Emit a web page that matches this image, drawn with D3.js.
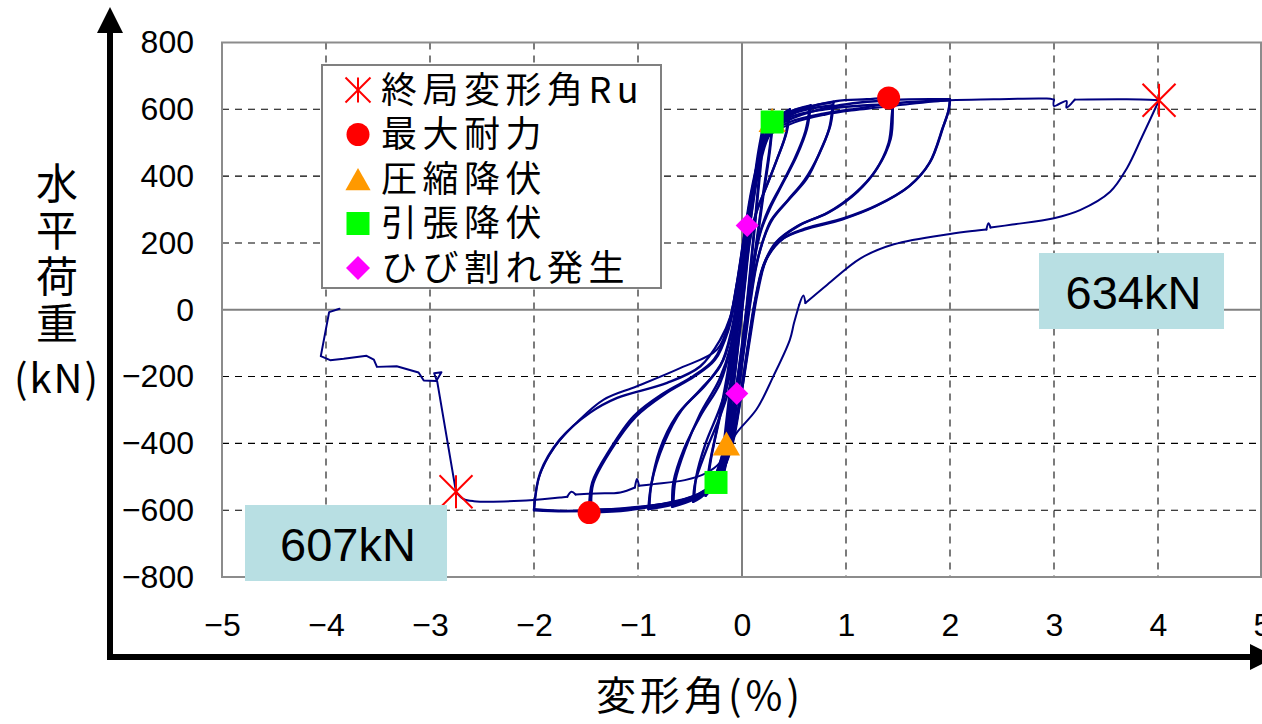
<!DOCTYPE html>
<html>
<head>
<meta charset="utf-8">
<script src="https://cdn.jsdelivr.net/npm/d3@7"></script>
<style>
  html, body { margin: 0; padding: 0; background: #fff; }
  svg { display: block; }
</style>
</head>
<body>
<svg id="chart" width="1262" height="724"></svg>
<script>
// ---- axis ticks ----
const xTicks = [-5, -4, -3, -2, -1, 0, 1, 2, 3, 4, 5];
const yTicks = [-800, -600, -400, -200, 0, 200, 400, 600, 800];

// ---- hysteresis record: drift angle (%) vs. lateral load (kN), one array per loading stage,
//      each stage split into branches at the load reversals ----
const stage1 = [
  [[0, 0], [0.05, 180], [0.1, 340], [0.15, 460], [0.2, 545]],
  [[0.2, 545], [0.17, 420], [0.12, 250], [0.06, 60], [0.0, -120], [-0.06, -280], [-0.12, -400], [-0.17, -480], [-0.21, -530]],
  [[-0.21, -530], [-0.18, -420], [-0.12, -250], [-0.06, -80], [0.0, 90], [0.06, 250], [0.12, 390], [0.17, 480], [0.21, 540]],
  [[0.21, 540], [0.18, 430], [0.13, 270], [0.07, 80], [0.01, -110], [-0.05, -270], [-0.11, -390], [-0.16, -470], [-0.2, -522]]
];
const stage2 = [
  [[-0.2, -522], [-0.16, -400], [-0.1, -240], [-0.04, -60], [0.03, 130], [0.1, 310], [0.17, 450], [0.23, 530], [0.3, 580]],
  [[0.3, 580], [0.27, 480], [0.2, 330], [0.13, 170], [0.06, 0], [-0.02, -170], [-0.1, -320], [-0.18, -440], [-0.26, -520], [-0.35, -557]],
  [[-0.35, -557], [-0.31, -460], [-0.23, -340], [-0.14, -190], [-0.06, -20], [0.02, 150], [0.1, 320], [0.18, 460], [0.24, 530], [0.3, 575]],
  [[0.3, 575], [0.26, 470], [0.19, 320], [0.12, 160], [0.05, -10], [-0.03, -180], [-0.11, -330], [-0.19, -450], [-0.27, -520], [-0.34, -550]]
];
const stage3 = [
  [[-0.34, -550], [-0.3, -450], [-0.21, -318], [-0.14, -220], [-0.07, -60], [0.0, 110], [0.07, 270], [0.14, 410], [0.22, 510], [0.32, 570], [0.46, 600]],
  [[0.46, 600], [0.43, 532], [0.34, 453], [0.24, 373], [0.14, 293], [0.08, 214], [0.03, 80], [-0.03, -90], [-0.09, -250], [-0.16, -400], [-0.26, -500], [-0.37, -555], [-0.47, -575]],
  [[-0.47, -575], [-0.45, -517], [-0.34, -418], [-0.21, -318], [-0.11, -219], [-0.05, -60], [0.01, 100], [0.08, 260], [0.15, 400], [0.23, 500], [0.33, 560], [0.45, 595]],
  [[0.45, 595], [0.42, 525], [0.33, 445], [0.23, 365], [0.13, 285], [0.07, 200], [0.02, 60], [-0.04, -110], [-0.1, -270], [-0.17, -410], [-0.27, -505], [-0.37, -550], [-0.46, -570]]
];
const stage4 = [
  [[-0.46, -570], [-0.44, -500], [-0.35, -400], [-0.22, -300], [-0.12, -200], [-0.06, -50], [0.0, 100], [0.07, 260], [0.14, 400], [0.22, 500], [0.32, 560], [0.45, 592], [0.66, 612]],
  [[0.66, 612], [0.625, 542], [0.53, 463], [0.4, 383], [0.27, 304], [0.18, 234], [0.11, 134], [0.05, 0], [-0.01, -140], [-0.08, -300], [-0.16, -430], [-0.28, -520], [-0.45, -565], [-0.67, -590]],
  [[-0.67, -590], [-0.66, -517], [-0.56, -418], [-0.4, -318], [-0.21, -219], [-0.1, -100], [-0.03, 40], [0.04, 200], [0.11, 350], [0.19, 470], [0.29, 545], [0.44, 585], [0.65, 605]],
  [[0.65, 605], [0.61, 535], [0.51, 455], [0.38, 375], [0.25, 297], [0.17, 228], [0.1, 128], [0.04, -10], [-0.02, -150], [-0.09, -310], [-0.17, -440], [-0.29, -525], [-0.46, -565], [-0.66, -585]]
];
const stage5 = [
  [[-0.66, -585], [-0.64, -510], [-0.55, -420], [-0.4, -310], [-0.22, -210], [-0.11, -110], [-0.04, 30], [0.03, 190], [0.1, 340], [0.18, 460], [0.27, 540], [0.45, 590], [0.7, 612], [0.88, 622]],
  [[0.88, 622], [0.85, 552], [0.75, 473], [0.625, 393], [0.46, 333], [0.3, 274], [0.21, 214], [0.14, 134], [0.08, 20], [0.02, -120], [-0.05, -280], [-0.13, -420], [-0.3, -530], [-0.6, -577], [-0.9, -597]],
  [[-0.9, -597], [-0.88, -537], [-0.79, -418], [-0.63, -318], [-0.4, -239], [-0.21, -169], [-0.1, -60], [-0.03, 80], [0.04, 230], [0.11, 370], [0.19, 475], [0.3, 545], [0.5, 588], [0.87, 612]],
  [[0.87, 612], [0.84, 545], [0.74, 465], [0.6, 388], [0.44, 328], [0.28, 268], [0.2, 205], [0.13, 125], [0.07, 10], [0.01, -130], [-0.06, -290], [-0.14, -425], [-0.31, -532], [-0.6, -575], [-0.89, -592]]
];
const stage6 = [
  [[-0.89, -592], [-0.87, -520], [-0.75, -400], [-0.58, -300], [-0.35, -225], [-0.18, -150], [-0.08, -40], [-0.01, 110], [0.06, 270], [0.13, 400], [0.21, 490], [0.3, 545], [0.5, 590], [0.9, 624], [1.2, 630], [1.41, 634], [1.45, 630]],
  [[1.45, 630], [1.45, 600], [1.43, 512], [1.3, 423], [1.11, 353], [0.85, 294], [0.56, 254], [0.34, 204], [0.21, 134], [0.13, 30], [0.06, -110], [-0.01, -260], [-0.09, -400], [-0.2, -490], [-0.4, -550], [-0.8, -585], [-1.1, -600], [-1.47, -607]],
  [[-1.47, -607], [-1.44, -517], [-1.27, -418], [-1.04, -318], [-0.75, -249], [-0.47, -199], [-0.27, -149], [-0.14, -60], [-0.06, 60], [0.01, 200], [0.08, 340], [0.16, 450], [0.26, 525], [0.45, 575], [0.8, 600], [1.1, 610], [1.45, 615]],
  [[1.45, 615], [1.44, 580], [1.41, 500], [1.28, 415], [1.08, 347], [0.82, 290], [0.53, 250], [0.32, 200], [0.2, 128], [0.12, 20], [0.05, -120], [-0.02, -270], [-0.1, -405], [-0.21, -495], [-0.42, -552], [-0.8, -583], [-1.1, -595], [-1.45, -598]]
];
const stage7 = [
  [[-1.45, -598], [-1.43, -520], [-1.26, -420], [-1.02, -320], [-0.73, -250], [-0.46, -200], [-0.26, -150], [-0.13, -60], [-0.05, 60], [0.02, 200], [0.09, 340], [0.17, 450], [0.26, 530], [0.5, 575], [0.9, 610], [1.45, 628], [2.0, 630]],
  [[2.0, 630], [1.99, 600], [1.94, 552], [1.81, 443], [1.62, 373], [1.3, 313], [0.98, 274], [0.62, 244], [0.4, 214], [0.24, 154], [0.15, 50], [0.08, -80], [0.01, -220], [-0.07, -360], [-0.17, -460], [-0.3, -530], [-0.6, -572], [-0.85, -585], [-1.3, -598], [-1.7, -603], [-2.0, -600]],
  [[-2.0, -600], [-1.94, -488], [-1.75, -388], [-1.46, -308], [-1.2, -264], [-0.72, -219], [-0.4, -169], [-0.21, -90], [-0.11, -20], [-0.04, 90], [0.03, 230], [0.1, 360], [0.18, 465], [0.24, 522], [0.46, 562], [0.78, 587], [1.11, 602], [1.43, 617], [2.0, 627]],
  [[2.0, 627], [1.98, 590], [1.93, 545], [1.8, 438], [1.6, 368], [1.28, 309], [0.96, 270], [0.6, 240], [0.38, 210], [0.23, 150], [0.14, 45], [0.07, -85], [0.0, -225], [-0.08, -365], [-0.18, -465], [-0.32, -535], [-0.6, -575], [-0.9, -590], [-1.3, -600], [-1.7, -602], [-2.0, -597]]
];
const finalStage = [
  [[-2.0, -597], [-1.95, -500], [-1.8, -410], [-1.59, -338], [-1.33, -269], [-1.01, -229], [-0.59, -174], [-0.24, -119], [-0.12, -30], [-0.05, 80], [0.02, 220], [0.09, 350], [0.17, 460], [0.25, 518], [0.5, 560], [0.8, 584], [1.1, 598], [1.5, 612], [2.0, 627], [2.42, 630], [2.93, 632], [3.0, 629]],
  [[3.0, 629], [3.0, 610], [3.12, 625], [3.12, 605], [3.2, 629]],
  [[3.2, 629], [3.7, 630], [4.01, 627]],
  [[4.01, 627], [3.85, 520], [3.7, 423], [3.54, 353], [3.25, 298], [3.0, 274], [2.6, 255], [2.39, 246]],
  [[2.39, 246], [2.37, 259], [2.35, 240]],
  [[2.35, 240], [2.26, 237], [2.0, 227], [1.46, 196], [1.14, 154], [0.82, 75], [0.61, 20]],
  [[0.61, 20], [0.59, 43], [0.55, 15]],
  [[0.55, 15], [0.5, -40], [0.46, -90], [0.3, -200], [0.14, -298], [-0.05, -368], [-0.15, -420], [-0.21, -457], [-0.35, -490], [-0.55, -510], [-0.85, -522], [-0.99, -527]],
  [[-0.99, -527], [-1.01, -507], [-1.03, -532]],
  [[-1.03, -532], [-1.17, -547], [-1.4, -550], [-1.6, -553]],
  [[-1.6, -553], [-1.64, -545], [-1.68, -560]],
  [[-1.68, -560], [-1.75, -562], [-2.13, -572], [-2.58, -573], [-2.68, -566], [-2.75, -545]]
];
const collapsePath = [
  [-2.75, -545], [-2.93, -216], [-2.96, -190], [-2.89, -187], [-2.94, -213], [-3.06, -212],
  [-3.11, -188], [-3.32, -169], [-3.51, -171], [-3.54, -149], [-3.61, -138], [-3.83, -147],
  [-3.96, -151], [-4.05, -139], [-3.97, -7], [-3.87, 3]
];

// ---- event markers ----
const ultimatePts = [[4.01, 627], [-2.75, -545]];
const maxStrengthPts = [[1.41, 634], [-1.47, -607]];
const compYieldPts = [[0.29, 565], [-0.15, -403]];
const tensYieldPts = [[0.29, 562], [-0.25, -517]];
const crackPts = [[0.05, 252], [-0.05, -251]];

const legendLabels = ['終局変形角Ru', '最大耐力', '圧縮降伏', '引張降伏', 'ひび割れ発生'];
const peakLabels = ['634kN', '607kN'];

const svg = d3.select('#chart');
const x = d3.scaleLinear().domain([-5, 5]).range([222, 1262]);
const y = d3.scaleLinear().domain([-800, 800]).range([577, 42.5]);

const latin = '"Liberation Sans", Arial, sans-serif';
const cjk = '"Noto Sans CJK JP", "Noto Sans CJK SC", sans-serif';
const navy = '#000080';

// plot area
svg.append('rect')
  .attr('x', x(-5)).attr('y', y(800))
  .attr('width', x(5) - x(-5)).attr('height', y(-800) - y(800))
  .attr('fill', '#fff');

// dashed grid
svg.append('g').selectAll('line')
  .data(xTicks.filter(d => d !== 0 && Math.abs(d) !== 5))
  .join('line')
  .attr('x1', d => x(d)).attr('x2', d => x(d))
  .attr('y1', y(800)).attr('y2', y(-800))
  .attr('stroke', '#444').attr('stroke-width', 1.4)
  .attr('stroke-dasharray', '7,6');
svg.append('g').selectAll('line')
  .data(yTicks.filter(d => d !== 0 && Math.abs(d) !== 800))
  .join('line')
  .attr('x1', x(-5)).attr('x2', x(5))
  .attr('y1', d => y(d)).attr('y2', d => y(d))
  .attr('stroke', '#000').attr('stroke-width', 1.1)
  .attr('stroke-dasharray', '7,6');

// zero lines and frame
svg.append('line').attr('x1', x(-5)).attr('x2', x(5)).attr('y1', y(0)).attr('y2', y(0))
  .attr('stroke', '#808080').attr('stroke-width', 2);
svg.append('line').attr('x1', x(0)).attr('x2', x(0)).attr('y1', y(800)).attr('y2', y(-800))
  .attr('stroke', '#808080').attr('stroke-width', 2);
svg.append('rect')
  .attr('x', x(-5)).attr('y', y(800))
  .attr('width', x(5) - x(-5) - 1).attr('height', y(-800) - y(800))
  .attr('fill', 'none').attr('stroke', '#8c8c8c').attr('stroke-width', 2);

// tick labels through d3 axes
const fmt = d => d < 0 ? '\u2212' + Math.abs(d) : String(d);
const yAxis = svg.append('g').attr('transform', `translate(${x(-5)},0)`)
  .call(d3.axisLeft(y).tickValues(yTicks).tickSize(0).tickPadding(28).tickFormat(fmt));
const xAxis = svg.append('g').attr('transform', `translate(0,${y(-800)})`)
  .call(d3.axisBottom(x).tickValues(xTicks).tickSize(0).tickPadding(36).tickFormat(fmt));
[yAxis, xAxis].forEach(g => {
  g.select('.domain').remove();
  g.selectAll('text').attr('font-family', latin).attr('font-size', 32).attr('fill', '#000');
});

// hysteresis curves
const smooth = d3.line().x(d => x(d[0])).y(d => y(d[1])).curve(d3.curveCatmullRom.alpha(0.5));
const straight = d3.line().x(d => x(d[0])).y(d => y(d[1]));
const curves = svg.append('g').attr('fill', 'none').attr('stroke', navy)
  .attr('stroke-width', 2.4).attr('stroke-linejoin', 'round').attr('stroke-linecap', 'round');
[stage1, stage2, stage3, stage4, stage5, stage6, stage7].forEach(stage => {
  stage.forEach(branch => curves.append('path').attr('d', smooth(branch)));
});
finalStage.forEach(branch => curves.append('path').attr('d', smooth(branch)).attr('stroke-width', 2));
curves.append('path').attr('d', straight(collapsePath)).attr('stroke-width', 2);

// marker shapes
function star(g, cx, cy, s) {
  const gg = g.append('g').attr('stroke', '#ff0000').attr('stroke-width', 2);
  gg.append('line').attr('x1', cx).attr('x2', cx).attr('y1', cy - s).attr('y2', cy + s);
  gg.append('line').attr('x1', cx - s).attr('x2', cx + s).attr('y1', cy - s).attr('y2', cy + s);
  gg.append('line').attr('x1', cx - s).attr('x2', cx + s).attr('y1', cy + s).attr('y2', cy - s);
}
function circle(g, cx, cy, r) {
  g.append('circle').attr('cx', cx).attr('cy', cy).attr('r', r).attr('fill', '#ff0000');
}
function triangle(g, cx, cy, s) {
  g.append('path').attr('d', `M${cx},${cy - s}L${cx + s * 1.05},${cy + s * 0.85}L${cx - s * 1.05},${cy + s * 0.85}Z`)
    .attr('fill', '#ff9900');
}
function square(g, cx, cy, s) {
  g.append('rect').attr('x', cx - s).attr('y', cy - s).attr('width', 2 * s).attr('height', 2 * s)
    .attr('fill', '#00ff00');
}
function diamond(g, cx, cy, s) {
  g.append('path').attr('d', `M${cx},${cy - s}L${cx + s},${cy}L${cx},${cy + s}L${cx - s},${cy}Z`)
    .attr('fill', '#ff00ff');
}

const marks = svg.append('g');
compYieldPts.forEach(d => triangle(marks, x(d[0]), y(d[1]), 13));
tensYieldPts.forEach(d => square(marks, x(d[0]), y(d[1]), 11.5));
crackPts.forEach(d => diamond(marks, x(d[0]), y(d[1]), 11.5));
maxStrengthPts.forEach(d => circle(marks, x(d[0]), y(d[1]), 11.5));
ultimatePts.forEach(d => star(marks, x(d[0]), y(d[1]), 16.5));

// value boxes
const boxes = [
  { text: peakLabels[0], x0: 1039, y0: 253, w: 185, h: 76 },
  { text: peakLabels[1], x0: 245, y0: 505, w: 202, h: 76 }
];
boxes.forEach(b => {
  svg.append('rect').attr('x', b.x0).attr('y', b.y0).attr('width', b.w).attr('height', b.h)
    .attr('fill', '#b8dfe3');
  svg.append('text').attr('x', b.x0 + b.w / 2 + 2).attr('y', b.y0 + b.h / 2 + 1)
    .attr('text-anchor', 'middle').attr('dominant-baseline', 'central')
    .attr('font-family', latin).attr('font-size', 47).attr('fill', '#000')
    .text(b.text);
});

// legend: markers plus one text row per entry
const leg = svg.append('g');
leg.append('rect').attr('x', 322).attr('y', 65).attr('width', 339).attr('height', 223)
  .attr('fill', '#fff').attr('stroke', '#808080').attr('stroke-width', 2);
const rowY = [90, 134.5, 179, 223.5, 268];
const mx = 358;
star(leg, mx, rowY[0], 12.5);
circle(leg, mx, rowY[1], 11.5);
triangle(leg, mx, rowY[2] + 1, 12);
square(leg, mx, rowY[3], 11.5);
diamond(leg, mx, rowY[4], 12);
leg.selectAll('text.entry').data(legendLabels).join('text')
  .attr('class', 'entry')
  .attr('x', 381).attr('y', (d, i) => rowY[i] + 12.5)
  .attr('font-family', cjk).attr('font-size', 36).attr('letter-spacing', 5.5).attr('fill', '#000')
  .text(d => d);

// outer axis arrows
const ax = svg.append('g').attr('fill', '#000');
ax.append('line').attr('x1', 110).attr('x2', 110).attr('y1', 660).attr('y2', 28)
  .attr('stroke', '#000').attr('stroke-width', 6);
ax.append('path').attr('d', 'M110,7L123,33L97,33Z');
ax.append('line').attr('x1', 107).attr('x2', 1255).attr('y1', 657).attr('y2', 657)
  .attr('stroke', '#000').attr('stroke-width', 6);
ax.append('path').attr('d', 'M1276,657L1250,644L1250,670Z');

// axis titles: the load title is set in vertical writing mode, the unit below it
svg.append('text')
  .attr('x', 57).attr('y', 162)
  .style('writing-mode', 'vertical-rl')
  .attr('font-family', cjk).attr('font-size', 42).attr('letter-spacing', 4.7)
  .attr('fill', '#000').text('水平荷重');
svg.append('text').attr('x', 57).attr('y', 393)
  .attr('text-anchor', 'middle')
  .attr('font-family', cjk).attr('font-size', 40).attr('letter-spacing', 2)
  .attr('fill', '#000').text('(kN)');
svg.append('text').attr('x', 700).attr('y', 693)
  .attr('text-anchor', 'middle').attr('dominant-baseline', 'central')
  .attr('font-family', cjk).attr('font-size', 40).attr('letter-spacing', 4)
  .attr('fill', '#000').text('変形角(%)');
</script>
</body>
</html>
